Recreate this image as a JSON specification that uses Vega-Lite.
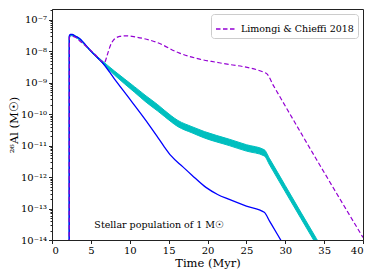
{
  "$schema": "https://vega.github.io/schema/vega-lite/v6.json",
  "width": 311,
  "height": 231,
  "autosize": {"type": "none"},
  "padding": {"left": 52, "top": 9, "right": 13, "bottom": 36},
  "background": "white",
  "config": {
    "font": "DejaVu Serif",
    "view": {"stroke": "#222", "strokeWidth": 1},
    "axis": {
      "grid": false,
      "domainColor": "#222",
      "tickColor": "#222",
      "labelColor": "#000",
      "titleColor": "#000",
      "labelFont": "DejaVu Serif",
      "titleFont": "DejaVu Serif",
      "labelFontSize": 10,
      "titleFontSize": 11.5,
      "titleFontWeight": "normal",
      "tickSize": 3.5,
      "labelPadding": 2
    }
  },
  "resolve": {"axis": {"y": "independent"}},
  "datasets": {
    "blue": [
      {"t": 2.21, "v": 1e-15},
      {"t": 2.22, "v": 3.0e-8},
      {"t": 2.35, "v": 3.4e-8},
      {"t": 2.6, "v": 3.4e-8},
      {"t": 3.0, "v": 3.0e-8},
      {"t": 3.5, "v": 2.6e-8},
      {"t": 4.5, "v": 1.4e-8},
      {"t": 5.25, "v": 8.7e-9},
      {"t": 6.5, "v": 4.3e-9},
      {"t": 8.0, "v": 1.35e-9},
      {"t": 10.2, "v": 2.6e-10},
      {"t": 12.5, "v": 4.5e-11},
      {"t": 13.5, "v": 2.0e-11},
      {"t": 14.4, "v": 9.5e-12},
      {"t": 15.3, "v": 4.8e-12},
      {"t": 16.8, "v": 2.15e-12},
      {"t": 18.0, "v": 1.15e-12},
      {"t": 19.8, "v": 4.7e-13},
      {"t": 21.3, "v": 2.8e-13},
      {"t": 22.8, "v": 1.95e-13},
      {"t": 25.0, "v": 1.2e-13},
      {"t": 27.3, "v": 7.6e-14},
      {"t": 28.0, "v": 3.9e-14},
      {"t": 29.0, "v": 1.5e-14},
      {"t": 30.5, "v": 3.5e-15}
    ],
    "cyan": [
      {"t": 2.21, "lo": 1e-15, "hi": 1e-15},
      {"t": 2.22, "lo": 2.8e-8, "hi": 3.1e-8},
      {"t": 2.5, "lo": 3.1e-8, "hi": 3.4e-8},
      {"t": 3.5, "lo": 2.3e-8, "hi": 2.6e-8},
      {"t": 5.0, "lo": 9.5e-9, "hi": 1.05e-8},
      {"t": 6.33, "lo": 4.5e-9, "hi": 5.3e-9},
      {"t": 8.04, "lo": 1.75e-9, "hi": 2.35e-9},
      {"t": 10.6, "lo": 5.0e-10, "hi": 7.5e-10},
      {"t": 12.1, "lo": 2.4e-10, "hi": 3.8e-10},
      {"t": 13.6, "lo": 1.25e-10, "hi": 2.0e-10},
      {"t": 14.5, "lo": 8.3e-11, "hi": 1.3e-10},
      {"t": 16.2, "lo": 4.0e-11, "hi": 6.3e-11},
      {"t": 18.0, "lo": 2.55e-11, "hi": 4.0e-11},
      {"t": 19.6, "lo": 1.75e-11, "hi": 2.8e-11},
      {"t": 22.8, "lo": 1.0e-11, "hi": 1.6e-11},
      {"t": 25.0, "lo": 6.7e-12, "hi": 1.07e-11},
      {"t": 27.3, "lo": 4.7e-12, "hi": 7.4e-12},
      {"t": 28.0, "lo": 2.4e-12, "hi": 3.8e-12},
      {"t": 30.0, "lo": 3.4e-13, "hi": 5.4e-13},
      {"t": 32.0, "lo": 4.9e-14, "hi": 7.7e-14},
      {"t": 34.0, "lo": 7.1e-15, "hi": 1.12e-14},
      {"t": 35.0, "lo": 2.7e-15, "hi": 4.3e-15}
    ],
    "limongi": [
      {"t": 2.21, "v": 1e-15, "s": "Limongi & Chieffi 2018"},
      {"t": 2.23, "v": 2.8e-8, "s": "Limongi & Chieffi 2018"},
      {"t": 2.5, "v": 3.0e-8, "s": "Limongi & Chieffi 2018"},
      {"t": 3.0, "v": 2.8e-8, "s": "Limongi & Chieffi 2018"},
      {"t": 3.5, "v": 2.2e-8, "s": "Limongi & Chieffi 2018"},
      {"t": 4.5, "v": 1.35e-8, "s": "Limongi & Chieffi 2018"},
      {"t": 5.5, "v": 8.0e-9, "s": "Limongi & Chieffi 2018"},
      {"t": 6.4, "v": 4.8e-9, "s": "Limongi & Chieffi 2018"},
      {"t": 6.75, "v": 4.4e-9, "s": "Limongi & Chieffi 2018"},
      {"t": 7.1, "v": 7.5e-9, "s": "Limongi & Chieffi 2018"},
      {"t": 7.5, "v": 1.5e-8, "s": "Limongi & Chieffi 2018"},
      {"t": 8.0, "v": 2.4e-8, "s": "Limongi & Chieffi 2018"},
      {"t": 8.7, "v": 2.95e-8, "s": "Limongi & Chieffi 2018"},
      {"t": 9.5, "v": 3.1e-8, "s": "Limongi & Chieffi 2018"},
      {"t": 10.5, "v": 2.9e-8, "s": "Limongi & Chieffi 2018"},
      {"t": 13.5, "v": 1.9e-8, "s": "Limongi & Chieffi 2018"},
      {"t": 16.4, "v": 8.7e-9, "s": "Limongi & Chieffi 2018"},
      {"t": 19.0, "v": 5.6e-9, "s": "Limongi & Chieffi 2018"},
      {"t": 21.5, "v": 4.3e-9, "s": "Limongi & Chieffi 2018"},
      {"t": 27.55, "v": 2.0e-9, "s": "Limongi & Chieffi 2018"},
      {"t": 28.5, "v": 7.9e-10, "s": "Limongi & Chieffi 2018"},
      {"t": 34.0, "v": 3.7e-12, "s": "Limongi & Chieffi 2018"},
      {"t": 40.0, "v": 1.2e-14, "s": "Limongi & Chieffi 2018"}
    ],
    "note": [
      {"t": 5.45, "v": 3.1e-14, "label": "Stellar population of 1 M☉"}
    ],
    "minor": [
      {"m": 2e-14}, {"m": 5e-14}, {"m": 2e-13}, {"m": 5e-13}, {"m": 2e-12}, {"m": 5e-12},
      {"m": 2e-11}, {"m": 5e-11}, {"m": 2e-10}, {"m": 5e-10}, {"m": 2e-9}, {"m": 5e-9},
      {"m": 2e-8}, {"m": 5e-8}, {"m": 2e-7}
    ]
  },
  "encoding": {
    "x": {
      "field": "t",
      "type": "quantitative",
      "scale": {"domain": [0, 40], "nice": false, "zero": false},
      "axis": {"values": [0, 5, 10, 15, 20, 25, 30, 35, 40], "title": "Time (Myr)", "titlePadding": 2}
    }
  },
  "layer": [
    {
      "data": {"name": "cyan"},
      "mark": {"type": "area", "color": "#00BFBF", "clip": true, "stroke": "#00BFBF", "strokeWidth": 1, "interpolate": "monotone"},
      "encoding": {
        "y": {
          "field": "lo",
          "type": "quantitative",
          "scale": {"type": "log", "domain": [1e-14, 2.2e-7], "nice": false},
          "axis": {
            "orient": "left",
            "values": [1e-14, 1e-13, 1e-12, 1e-11, 1e-10, 1e-9, 1e-8, 1e-7],
            "labelExpr": "'10' + ['⁻¹⁴','⁻¹³','⁻¹²','⁻¹¹','⁻¹⁰','⁻⁹','⁻⁸','⁻⁷'][round(log(datum.value)/LN10)+14]",
            "title": "²⁶Al (M☉)",
            "titlePadding": 1
          }
        },
        "y2": {"field": "hi"}
      }
    },
    {
      "data": {"name": "minor"},
      "mark": {"type": "point", "opacity": 0},
      "encoding": {
        "x": {"datum": 0},
        "y": {
          "field": "m",
          "type": "quantitative",
          "axis": {"orient": "left", "values": [2e-14, 3e-14, 4e-14, 5e-14, 6e-14, 7e-14, 8e-14, 9e-14, 2e-13, 3e-13, 4e-13, 5e-13, 6e-13, 7e-13, 8e-13, 9e-13, 2e-12, 3e-12, 4e-12, 5e-12, 6e-12, 7e-12, 8e-12, 9e-12, 2e-11, 3e-11, 4e-11, 5e-11, 6e-11, 7e-11, 8e-11, 9e-11, 2e-10, 3e-10, 4e-10, 5e-10, 6e-10, 7e-10, 8e-10, 9e-10, 2e-9, 3e-9, 4e-9, 5e-9, 6e-9, 7e-9, 8e-9, 9e-9, 2e-8, 3e-8, 4e-8, 5e-8, 6e-8, 7e-8, 8e-8, 9e-8, 2e-7], "labels": false, "tickSize": 2, "domain": false, "title": null}
        }
      }
    },
    {
      "data": {"name": "blue"},
      "mark": {"type": "line", "color": "#0000FF", "strokeWidth": 1.3, "clip": true, "interpolate": "monotone"},
      "encoding": {"y": {"field": "v", "type": "quantitative", "axis": null}}
    },
    {
      "data": {"name": "limongi"},
      "mark": {"type": "line", "strokeWidth": 1.2, "strokeDash": [4.5, 2.5], "clip": true, "interpolate": "monotone"},
      "encoding": {
        "y": {"field": "v", "type": "quantitative", "axis": null},
        "color": {
          "field": "s",
          "type": "nominal",
          "scale": {"domain": ["Limongi & Chieffi 2018"], "range": ["#9400D3"]},
          "legend": {
            "title": null,
            "orient": "top-right",
            "offset": 5,
            "padding": 4,
            "strokeColor": "#ccc",
            "fillColor": "white",
            "cornerRadius": 3,
            "symbolType": "stroke",
            "symbolSize": 400,
            "symbolStrokeWidth": 1.3,
            "symbolDash": [4.5, 2.5],
            "labelFont": "DejaVu Serif",
            "labelFontSize": 9.5,
            "labelColor": "#000"
          }
        }
      }
    },
    {
      "data": {"name": "note"},
      "mark": {"type": "text", "align": "left", "baseline": "middle", "fontSize": 9.5, "font": "DejaVu Serif", "color": "#000"},
      "encoding": {
        "y": {"field": "v", "type": "quantitative", "axis": null},
        "text": {"field": "label"}
      }
    }
  ]
}
